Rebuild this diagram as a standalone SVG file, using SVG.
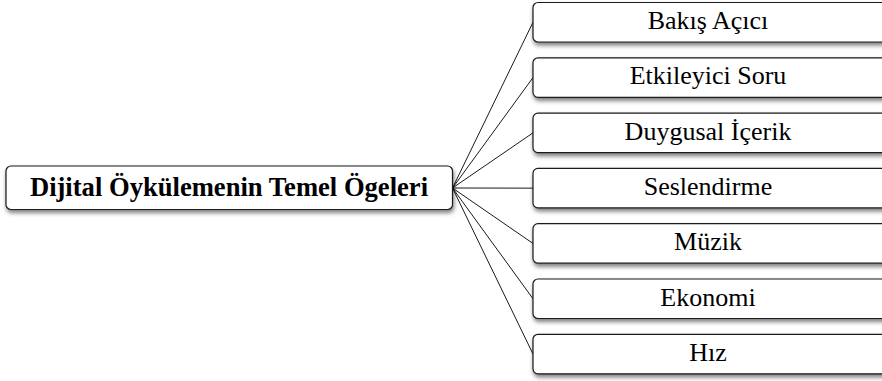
<svg xmlns="http://www.w3.org/2000/svg" width="882" height="381" viewBox="0 0 882 381">
  <defs>
    <filter id="shadow" x="-5%" y="-20%" width="110%" height="160%">
      <feDropShadow dx="1" dy="3" stdDeviation="2" flood-color="#000" flood-opacity="0.5"/>
    </filter>
    <style>
      .box { fill: #fff; stroke: #1a1a1a; stroke-width: 1.2; filter: url(#shadow); }
      .link { fill: none; stroke: #1a1a1a; stroke-width: 1; }
      .label { font-family: "Liberation Serif", "Times New Roman", serif; font-size: 26px; fill: #000; text-anchor: middle; }
      .title { font-family: "Liberation Serif", "Times New Roman", serif; font-size: 26.6px; font-weight: bold; fill: #000; text-anchor: middle; }
    </style>
  </defs>
  <rect width="882" height="381" fill="#fff"/>

  <!-- connectors fanning out from the root node -->
  <g id="connectors">
    <line class="link" x1="452.5" y1="188" x2="533" y2="22.25"/>
    <line class="link" x1="452.5" y1="188" x2="533" y2="77.55"/>
    <line class="link" x1="452.5" y1="188" x2="533" y2="132.85"/>
    <line class="link" x1="452.5" y1="188" x2="533" y2="188.15"/>
    <line class="link" x1="452.5" y1="188" x2="533" y2="243.45"/>
    <line class="link" x1="452.5" y1="188" x2="533" y2="298.75"/>
    <line class="link" x1="452.5" y1="188" x2="533" y2="354.05"/>
  </g>

  <!-- root node -->
  <g id="root">
    <rect class="box" x="6" y="166" width="446.5" height="43.5" rx="5"/>
    <text class="title" x="229" y="196">Dijital Öykülemenin Temel Ögeleri</text>
  </g>

  <!-- child nodes -->
  <g id="bakis-acisi">
    <rect class="box" x="533" y="2.5" width="360" height="39.5" rx="5"/>
    <text class="label" x="708" y="29">Bakış Açıcı</text>
  </g>
  <g id="etkileyici-soru">
    <rect class="box" x="533" y="57.8" width="360" height="39.5" rx="5"/>
    <text class="label" x="708" y="84.3">Etkileyici Soru</text>
  </g>
  <g id="duygusal-icerik">
    <rect class="box" x="533" y="113.1" width="360" height="39.5" rx="5"/>
    <text class="label" x="708" y="139.6">Duygusal İçerik</text>
  </g>
  <g id="seslendirme">
    <rect class="box" x="533" y="168.4" width="360" height="39.5" rx="5"/>
    <text class="label" x="708" y="194.9">Seslendirme</text>
  </g>
  <g id="muzik">
    <rect class="box" x="533" y="223.7" width="360" height="39.5" rx="5"/>
    <text class="label" x="708" y="250.2">Müzik</text>
  </g>
  <g id="ekonomi">
    <rect class="box" x="533" y="279" width="360" height="39.5" rx="5"/>
    <text class="label" x="708" y="305.5">Ekonomi</text>
  </g>
  <g id="hiz">
    <rect class="box" x="533" y="334.3" width="360" height="39.5" rx="5"/>
    <text class="label" x="708" y="361.2">Hız</text>
  </g>
</svg>
